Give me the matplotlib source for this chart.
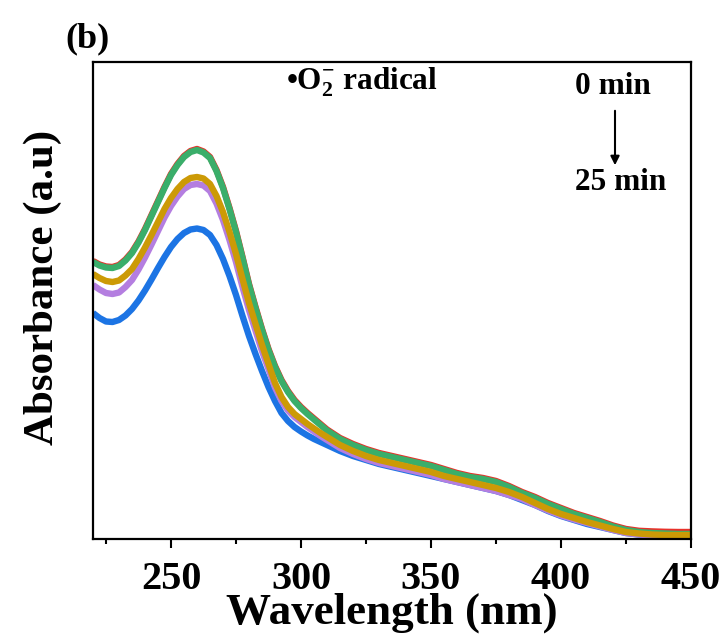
import numpy as np
import matplotlib
matplotlib.use("Agg")
import matplotlib.pyplot as plt
from matplotlib.ticker import MultipleLocator

plt.rcParams['font.family'] = ['Liberation Serif', 'DejaVu Serif']
plt.rcParams['font.weight'] = 'bold'
plt.rcParams['mathtext.fontset'] = 'custom'
plt.rcParams['mathtext.rm'] = 'Liberation Serif:bold'
plt.rcParams['mathtext.it'] = 'Liberation Serif:bold'
plt.rcParams['mathtext.bf'] = 'Liberation Serif:bold'

# wavelength (nm): finer steps over the band, 5 nm over the tail
wavelength = np.concatenate([np.arange(220, 310.1, 2.5), np.arange(315, 451, 5)])

# absorbance (a.u.)
abs_red = [278, 274.5, 272.5, 272, 274, 279.5, 287, 297.5, 310, 324,
           338, 352, 365, 375, 383, 388, 390, 387.5, 382, 369,
           352, 331, 308, 282, 255, 232, 210, 190, 173, 159,
           148, 139, 132, 126, 120.5, 115, 109.5,
           101, 95, 90, 86, 83, 80, 77, 74, 70, 66,
           63, 61, 58, 53, 47, 42, 36, 31, 26, 22,
           18, 13.5, 10, 8.2, 7.6, 7.2, 7, 7]
abs_green = [277, 273.5, 271.5, 271, 273, 278.5, 286, 296.5, 309, 323,
             337, 351, 364, 374, 382, 387, 389, 386.5, 381, 368,
             351, 330, 307, 281, 254, 231, 209, 189, 172, 158,
             147, 138, 131, 125, 119.5, 114, 108.5,
             100, 94, 89, 85, 82, 79, 76, 73, 69, 65,
             62, 60, 57, 52, 46, 41, 35, 30, 25, 21,
             17, 12.5, 9, 7, 6, 5.5, 5, 5]
abs_gold = [265, 261, 258, 257, 258.5, 263.5, 270, 280, 291.5, 304,
            317, 330, 341, 350, 357, 361, 362, 360.5, 355, 343,
            327, 307, 285, 260, 236, 215, 194, 175, 156, 142,
            132, 125, 120, 115, 110.5, 106, 102,
            94, 88, 83, 79, 76, 73, 70, 67, 63, 60,
            57, 54, 51, 47, 42, 36, 30, 25, 21, 17,
            13.5, 10, 7, 5.5, 4.5, 4, 4, 4]
abs_purple = [254, 249.5, 246, 245, 246.5, 252, 259, 269.5, 281.5, 294.5,
              308, 321.5, 333, 342.5, 350, 354, 355, 353.5, 348, 335.5,
              319, 299, 277, 252, 229, 208.5, 188, 170, 151.5, 138,
              128.5, 122, 117, 112, 107.5, 103, 99,
              91, 85, 80, 76, 73, 70, 67, 64, 60, 57,
              54, 51, 48, 44, 40, 34, 28.5, 23.5, 19.5, 16,
              12.5, 9, 6, 4.5, 3.5, 3, 3, 3]
abs_blue = [226, 221, 217.5, 217, 219, 223.5, 230, 238.5, 248.5, 259.5,
            271, 282, 292, 300, 306, 309.5, 310.5, 309, 304, 294,
            280, 263, 244, 223, 203, 185, 168, 152, 138, 126,
            118, 112, 107.5, 103.5, 100, 97, 94,
            88, 83, 79, 75, 72, 69, 66, 63, 60, 57,
            54, 51, 48, 44, 39, 34, 28, 23, 19, 15,
            12, 9, 6, 4.5, 3.5, 3, 3, 3]

series = [
    (abs_red, '#e8312a'),
    (abs_green, '#3aae6a'),
    (abs_blue, '#1c74e4'),
    (abs_purple, '#b47ee0'),
    (abs_gold, '#cc9a06'),
]

W, H = 725, 641
fig = plt.figure(figsize=(W / 100, H / 100), dpi=100)
ax = fig.add_axes([93 / W, (H - 539) / H, (691 - 93) / W, (539 - 62) / H])


def px(x, y):
    # pixel position -> figure fraction
    return x / W, 1 - y / H


for y, c in series:
    ax.plot(wavelength, y, color=c, lw=4.6, solid_joinstyle='round',
            solid_capstyle='butt')

ax.set_xlim(220, 450)
ax.set_ylim(0, 477)
ax.xaxis.set_major_locator(MultipleLocator(50))
ax.xaxis.set_minor_locator(MultipleLocator(25))
ax.set_yticks([])
ax.tick_params(axis='x', which='major', direction='out', length=6.5, width=1.5,
               labelsize=29, pad=9)
ax.tick_params(axis='x', which='minor', direction='out', length=3.5, width=1.5)
for lab in ax.get_xticklabels():
    lab.set_fontweight('bold')
for s in ax.spines.values():
    s.set_linewidth(1.6)

fig.text(*px(392, 613), 'Wavelength (nm)', fontsize=32.5, fontweight='bold',
         ha='center', va='center')
fig.text(*px(43, 287), 'Absorbance (a.u)', fontsize=31, fontweight='bold',
         ha='center', va='center', rotation=90)

fig.text(*px(65, 39), '(b)', fontsize=26, fontweight='bold', va='center', ha='left')
fig.text(*px(286, 82), '\u2022O$_2^{-}$ radical', fontsize=22.5,
         fontweight='bold', va='center', ha='left')
fig.text(*px(613, 87), '0 min', fontsize=22.5, fontweight='bold',
         ha='center', va='center')
fig.text(*px(621, 183), '25 min', fontsize=22.5, fontweight='bold',
         ha='center', va='center')
ax.annotate('', xy=px(615, 168), xytext=px(615, 108), xycoords='figure fraction',
            arrowprops=dict(arrowstyle='-|>', color='black', lw=1.5,
                            mutation_scale=13))

fig.savefig('out.png', dpi=100)
